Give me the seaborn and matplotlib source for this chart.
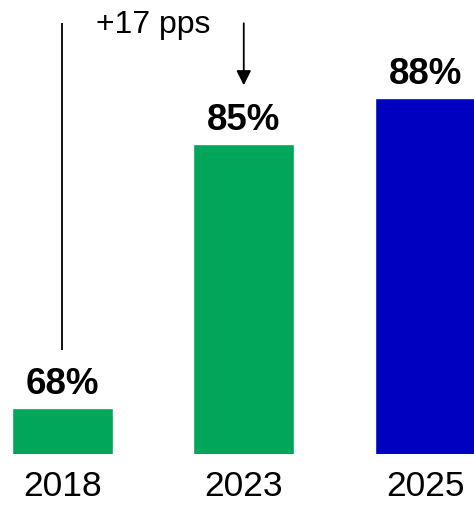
import matplotlib
matplotlib.use("Agg")
import matplotlib.pyplot as plt
import seaborn as sns
import pandas as pd

# Share of respondents by survey year
years = ["2018", "2023", "2025"]
shares = [68, 85, 88]
bar_colors = ["#00A65A", "#00A65A", "#0000C0"]

sns.set_theme(style="white")
plt.rcParams["font.family"] = ["Liberation Sans", "DejaVu Sans"]

df = pd.DataFrame({"year": years, "share": shares})

fig = plt.figure(figsize=(4.74, 5.07), dpi=100)
ax = fig.add_axes([0, 0.104, 1, 0.896])

sns.barplot(data=df, x="year", y="share", hue="year", palette=bar_colors,
            width=0.556, legend=False, saturation=1, ax=ax)

ax.set_ylim(65, 94.3)
ax.set_xlim(-0.3425, 2.268)
ax.set_xlabel("")
ax.set_ylabel("")
ax.set_yticks([])
for s in ax.spines.values():
    s.set_visible(False)
ax.tick_params(axis="x", length=0, pad=11.5, labelsize=25.5, labelcolor="black")

# value labels above each bar
for i, v in enumerate(shares):
    ax.annotate(f"{v}%", xy=(i, v), xytext=(0, 10), textcoords="offset points",
                ha="center", va="baseline", fontsize=26.5, fontweight="bold",
                color="black")

# change marker from 2018 to 2023
ax.plot([0, 0], [71.7, 92.8], color="black", lw=1.3, solid_capstyle="butt")
ax.annotate("", xy=(1.0, shares[1] + 3.8), xytext=(1.0, 92.8),
            arrowprops=dict(arrowstyle="-|>", color="black", lw=1.3,
                            mutation_scale=22, shrinkA=0, shrinkB=0))
ax.text(0.5, 92.16, f"+{shares[1] - shares[0]} pps", ha="center",
        va="baseline", fontsize=23, color="black")

fig.savefig("out.png", dpi=100)
